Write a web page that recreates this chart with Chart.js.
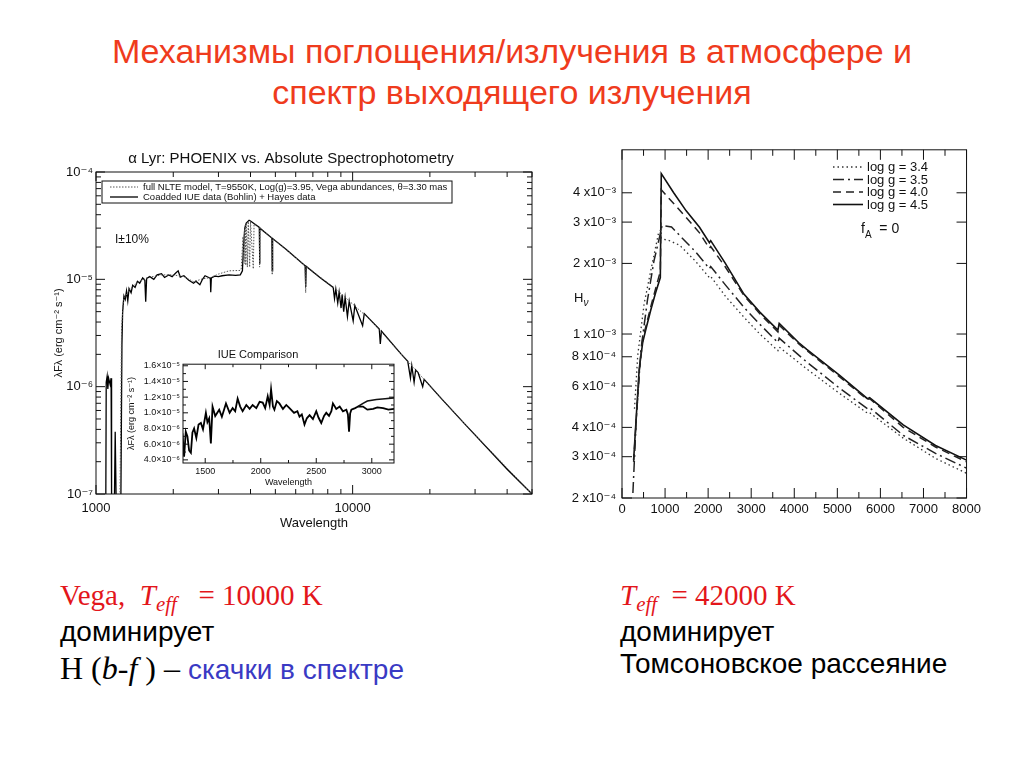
<!DOCTYPE html>
<html lang="ru">
<head>
<meta charset="utf-8">
<title>Механизмы поглощения/излучения в атмосфере</title>
<script src="https://cdn.jsdelivr.net/npm/chart.js@4.4.1/dist/chart.umd.min.js"></script>
<style>
  body { margin: 0; background: #fff; }
  #page { position: relative; width: 1024px; height: 768px; overflow: hidden; font-family: 'Liberation Sans', Arial, sans-serif; }
  .abs { position: absolute; white-space: nowrap; }
  canvas { position: absolute; }
  .title { left: 0; width: 1024px; top: 31px; text-align: center; font-size: 34px; line-height: 41px; color: #ef3b1d; }
  .serif { font-family: 'Liberation Serif', 'Times New Roman', serif; }
  .red { color: #e3161b; }
  .blue { color: #3a3ac4; }
  .sub { font-size: 0.72em; font-style: italic; position: relative; top: 0.3em; }
  .txt { font-size: 28px; color: #000; }
</style>
</head>
<body>
<div id="page">
  <div class="abs title">Механизмы поглощения/излучения в атмосфере и<br>спектр выходящего излучения</div>

  <canvas id="vega" width="490" height="385" style="left:50px; top:148px; width:490px; height:385px"></canvas>
  <canvas id="iue" width="276" height="145" style="left:122px; top:345px; width:276px; height:145px"></canvas>
  <canvas id="hot" width="425" height="385" style="left:560px; top:136px; width:425px; height:385px"></canvas>

  <div class="abs" style="left:115px; top:232px; font-size:12px; color:#111">I±10%</div>
  <div class="abs" style="left:574px; top:290px; font-size:13px; color:#111">H<span style="font-size:10px; position:relative; top:4px; font-style:italic">ν</span></div>
  <div class="abs" style="left:861px; top:220px; font-size:14px; color:#111">f<span style="font-size:10px; position:relative; top:5px">A</span>&nbsp;&nbsp;= 0</div>

  <div class="abs serif red" style="left:60px; top:579px; font-size:29px">Vega,&nbsp; <i>T</i><span class="sub">eff</span>&nbsp;&nbsp; = 10000 K</div>
  <div class="abs txt" style="left:60px; top:616px">доминирует</div>
  <div class="abs" style="left:60px; top:650px"><span class="serif" style="font-size:32px">H (<i>b</i>-<i>f</i> ) – </span><span class="blue" style="font-size:28px">скачки в спектре</span></div>

  <div class="abs serif red" style="left:620px; top:579px; font-size:29px"><i>T</i><span class="sub">eff</span>&nbsp; = 42000 K</div>
  <div class="abs txt" style="left:620px; top:616px">доминирует</div>
  <div class="abs txt" style="left:620px; top:648px">Томсоновское рассеяние</div>
</div>

<script>
// === Vega: PHOENIX model vs. observed (Angstrom, erg cm^-2 s^-1) === //
const vegaObsWave = [1092, 1096, 1105, 1112, 1120, 1135, 1145, 1150, 1180, 1188, 1198, 1250, 1262, 1270, 1285, 1300, 1315, 1330, 1345, 1370, 1390, 1420, 1450, 1480, 1520, 1550, 1562, 1575, 1620, 1680, 1730, 1800, 1850, 1920, 1980, 2040, 2090, 2130, 2200, 2300, 2400, 2450, 2540, 2600, 2660, 2750, 2790, 2800, 2815, 2900, 3000, 3100, 3300, 3500, 3650, 3720, 3760, 3800, 3850, 3900, 3950, 4000, 4100, 4330, 4340, 4355, 4845, 4861, 4878, 5500, 6530, 6563, 6595, 7500, 8400, 8500, 8600, 8750, 8860, 9015, 9100, 9230, 9350, 9546, 9700, 10049, 10200, 10938, 11100, 12700, 12818, 12950, 15400, 16400, 16800, 17000, 17360, 17600, 18000, 18750, 19000, 22000, 27100, 40000, 50000]
const vegaObsFlux = [9e-8, 1.1e-6, 1.25e-6, 9.5e-7, 1.2e-6, 1.05e-6, 1.2e-6, 9e-8, 9e-8, 3.8e-7, 9e-8, 9e-8, 2.5e-6, 5.0e-6, 7.0e-6, 6.5e-6, 7.8e-6, 6.3e-6, 8.2e-6, 7.5e-6, 8.8e-6, 8.4e-6, 9.6e-6, 9.2e-6, 1.03e-5, 9.8e-6, 6.2e-6, 1.02e-5, 1.06e-5, 1.0e-5, 1.1e-5, 1.13e-5, 1.04e-5, 1.1e-5, 1.06e-5, 1.14e-5, 1.2e-5, 1.05e-5, 1.08e-5, 9.8e-6, 9.2e-6, 9.6e-6, 8.9e-6, 1.0e-5, 1.08e-5, 1.04e-5, 1.02e-5, 7.6e-6, 1.03e-5, 1.07e-5, 1.06e-5, 1.08e-5, 1.1e-5, 1.09e-5, 1.1e-5, 1.2e-5, 2.1e-5, 3.0e-5, 3.35e-5, 3.45e-5, 3.55e-5, 3.5e-5, 3.35e-5, 3.05e-5, 1.4e-5, 3.0e-5, 2.43e-5, 1.2e-5, 2.4e-5, 1.91e-5, 1.34e-5, 8.5e-6, 1.32e-5, 1.03e-5, 8.4e-6, 6.6e-6, 8.1e-6, 6.0e-6, 7.6e-6, 5.4e-6, 7.2e-6, 5.0e-6, 6.8e-6, 4.5e-6, 6.3e-6, 4.1e-6, 5.7e-6, 3.7e-6, 4.8e-6, 3.45e-6, 2.5e-6, 3.3e-6, 2.03e-6, 1.72e-6, 1.2e-6, 1.57e-6, 1.1e-6, 1.43e-6, 1.35e-6, 1.0e-6, 1.17e-6, 7.9e-7, 4.6e-7, 1.7e-7, 1.0e-7]

const vegaModWave = [1180, 1240, 1258, 1280, 1350, 1450, 1600, 1800, 2000, 2200, 2400, 2600, 2800, 3000, 3300, 3640, 3680, 3740, 3760, 3790, 3800, 3820, 3835, 3855, 3889, 3920, 3970, 4000, 4102, 4130, 4330, 4340, 4355, 4845, 4861, 4878, 6530, 6563, 6595, 8720, 11800, 15400, 27100, 50000]
const vegaModFlux = [9e-8, 9e-8, 3.5e-6, 6.5e-6, 8.0e-6, 9.4e-6, 1.04e-5, 1.1e-5, 1.1e-5, 1.06e-5, 9.5e-6, 1.01e-5, 1.04e-5, 1.12e-5, 1.2e-5, 1.21e-5, 1.25e-5, 2.5e-5, 1.5e-5, 2.9e-5, 1.4e-5, 3.2e-5, 1.35e-5, 3.35e-5, 1.3e-5, 3.45e-5, 1.3e-5, 3.45e-5, 1.25e-5, 3.3e-5, 3.05e-5, 1.3e-5, 3.0e-5, 2.43e-5, 1.1e-5, 2.4e-5, 1.34e-5, 7.5e-6, 1.32e-5, 7.9e-6, 4.13e-6, 2.03e-6, 4.6e-7, 1.0e-7]

// === IUE comparison inset === //
const iueWave = [1295, 1310, 1325, 1340, 1355, 1371, 1385, 1400, 1420, 1440, 1461, 1480, 1506, 1520, 1536, 1551, 1566, 1590, 1626, 1650, 1687, 1720, 1747, 1770, 1792, 1815, 1837, 1870, 1900, 1927, 1960, 1990, 2018, 2040, 2063, 2080, 2093, 2110, 2123, 2145, 2168, 2200, 2230, 2259, 2300, 2330, 2349, 2370, 2394, 2415, 2440, 2470, 2500, 2520, 2545, 2570, 2590, 2615, 2636, 2650, 2680, 2711, 2740, 2771, 2785, 2795, 2805, 2816, 2850, 2876, 2921, 2960, 3012, 3050, 3102, 3150, 3200]
const iueFlux = [7.4e-6, 4.4e-6, 7.6e-6, 7.0e-6, 5.2e-6, 4.9e-6, 7.5e-6, 8.0e-6, 6.8e-6, 8.5e-6, 8.7e-6, 7.9e-6, 1.0e-5, 8.8e-6, 9.3e-6, 6.1e-6, 1.08e-5, 9.6e-6, 1.04e-5, 9.5e-6, 1.12e-5, 1.0e-5, 1.06e-5, 1.02e-5, 1.18e-5, 1.08e-5, 1.02e-5, 1.1e-5, 1.05e-5, 1.1e-5, 1.06e-5, 1.14e-5, 1.13e-5, 1.06e-5, 1.21e-5, 1.1e-5, 1.3e-5, 1.08e-5, 1.04e-5, 1.15e-5, 1.12e-5, 1.05e-5, 1.1e-5, 1.06e-5, 1.0e-5, 1.02e-5, 9.5e-6, 9.8e-6, 8.5e-6, 9.3e-6, 9.7e-6, 9.2e-6, 1.02e-5, 9.4e-6, 8.7e-6, 9.6e-6, 1.0e-5, 9.6e-6, 1.02e-5, 1.12e-5, 1.05e-5, 1.08e-5, 1.02e-5, 1.04e-5, 9.8e-6, 7.6e-6, 9.9e-6, 1.04e-5, 1.06e-5, 1.08e-5, 1.08e-5, 1.04e-5, 1.05e-5, 1.07e-5, 1.06e-5, 1.04e-5, 1.05e-5]
const iueModWave = [2876, 2921, 2960, 3042, 3120, 3200]
const iueModFlux = [1.08e-5, 1.12e-5, 1.15e-5, 1.17e-5, 1.18e-5, 1.19e-5]
const iueYTicks = [4e-6, 6e-6, 8e-6, 1e-5, 1.2e-5, 1.4e-5, 1.6e-5]
const iueXTicks = [1500, 2000, 2500, 3000]

// === Hot star, Teff = 42000 K: H_nu vs wavelength === //
const wave34 = [290, 365, 515, 665, 850, 905, 915, 1100, 1340, 1700, 2030, 2060, 2400, 2830, 3200, 3620, 3650, 4290, 5040, 5700, 5750, 6530, 7280, 8000]
const h34 = [4.8e-4, 8.1e-4, 1.35e-3, 1.85e-3, 2.7e-3, 2.78e-3, 2.55e-3, 2.5e-3, 2.39e-3, 2.05e-3, 1.74e-3, 1.76e-3, 1.45e-3, 1.18e-3, 1.0e-3, 8.5e-4, 8.8e-4, 7.1e-4, 5.6e-4, 4.6e-4, 4.62e-4, 3.6e-4, 2.95e-4, 2.55e-4]
const wave35 = [253, 330, 440, 590, 740, 890, 930, 1150, 1340, 1700, 2030, 2060, 2400, 2830, 3200, 3620, 3650, 4290, 5040, 5700, 5750, 6530, 7280, 8000]
const h35 = [2.1e-4, 4.3e-4, 8.6e-4, 1.39e-3, 2.04e-3, 2.68e-3, 2.9e-3, 2.86e-3, 2.63e-3, 2.25e-3, 1.9e-3, 1.94e-3, 1.62e-3, 1.3e-3, 1.1e-3, 9.2e-4, 9.6e-4, 7.6e-4, 5.9e-4, 4.8e-4, 4.85e-4, 3.7e-4, 3.1e-4, 2.68e-4]
const wave40 = [270, 330, 400, 480, 550, 665, 780, 890, 912, 1200, 1490, 1800, 2030, 2060, 2400, 2830, 3200, 3620, 3650, 4100, 4290, 5040, 5700, 5750, 6530, 7280, 8000]
const h40 = [2.85e-4, 4.3e-4, 6.9e-4, 9.5e-4, 1.07e-3, 1.3e-3, 1.56e-3, 1.85e-3, 4.12e-3, 3.6e-3, 3.14e-3, 2.7e-3, 2.32e-3, 2.36e-3, 1.93e-3, 1.46e-3, 1.22e-3, 1.02e-3, 1.09e-3, 9.1e-4, 8.5e-4, 6.6e-4, 5.25e-4, 5.3e-4, 4.0e-4, 3.3e-4, 2.85e-4]
const wave45 = [270, 330, 400, 480, 550, 665, 780, 890, 912, 1200, 1490, 1800, 2030, 2060, 2400, 2830, 3200, 3620, 3650, 4100, 4290, 5040, 5700, 5750, 6530, 7280, 8000]
const h45 = [2.9e-4, 4.4e-4, 7.1e-4, 9.2e-4, 1.04e-3, 1.26e-3, 1.5e-3, 1.74e-3, 4.83e-3, 4.0e-3, 3.35e-3, 2.85e-3, 2.45e-3, 2.5e-3, 2.0e-3, 1.48e-3, 1.24e-3, 1.04e-3, 1.11e-3, 9.2e-4, 8.6e-4, 6.7e-4, 5.3e-4, 5.35e-4, 4.1e-4, 3.35e-4, 2.9e-4]
const hotYTicks = [2e-4, 3e-4, 4e-4, 6e-4, 8e-4, 1e-3, 2e-3, 3e-3, 4e-3]
const hotXTicks = [0, 500, 1000, 1500, 2000, 2500, 3000, 3500, 4000, 4500, 5000, 5500, 6000, 6500, 7000, 7500, 8000]

const plotFont = "'Liberation Sans', 'DejaVu Sans', sans-serif"
const ink = '#111'

const supMap = { '-': '⁻', '0': '⁰', '1': '¹', '2': '²', '3': '³', '4': '⁴', '5': '⁵', '6': '⁶', '7': '⁷', '8': '⁸', '9': '⁹' }
function sup(n) { return String(n).split('').map(c => supMap[c]).join('') }
function expOf(v) { return Math.floor(Math.log10(v) + 1e-9) }
function isDecade(v) { const l = Math.log10(v); return Math.abs(l - Math.round(l)) < 1e-6 }
function pairs(xs, ys) { return xs.map((x, i) => ({ x, y: ys[i] })) }

// 1..9 marks in every decade of a log axis
function logTicks(min, max) {
  const out = []
  for (let e = expOf(min); e <= expOf(max); e++) {
    for (let m = 1; m < 10; m++) {
      const v = m * Math.pow(10, e)
      if (v >= min * 0.999 && v <= max * 1.001) out.push(v)
    }
  }
  return out
}

// frame round the plot and inward tick marks on all four sides
function frameTicks(cfg) {
  return {
    id: 'frameTicks',
    afterDatasetsDraw(chart) {
      const { ctx, chartArea: a } = chart
      const xs = chart.scales.x, ys = chart.scales.y
      ctx.save()
      ctx.strokeStyle = ink
      ctx.lineWidth = cfg.lineWidth || 1
      ctx.strokeRect(a.left, a.top, a.right - a.left, a.bottom - a.top)
      ctx.beginPath()
      const xv = xs.ticks.map(t => t.value), yv = ys.ticks.map(t => t.value)
      xv.forEach((v, i) => {
        const p = xs.getPixelForValue(v)
        const len = cfg.majorX(v) ? cfg.major : cfg.minor
        ctx.moveTo(p, a.bottom); ctx.lineTo(p, a.bottom - len)
        ctx.moveTo(p, a.top); ctx.lineTo(p, a.top + len)
        if (cfg.midX && i > 0) {
          const q = xs.getPixelForValue((v + xv[i - 1]) / 2)
          ctx.moveTo(q, a.bottom); ctx.lineTo(q, a.bottom - cfg.minor)
          ctx.moveTo(q, a.top); ctx.lineTo(q, a.top + cfg.minor)
        }
      })
      yv.forEach((v, i) => {
        const p = ys.getPixelForValue(v)
        const len = cfg.majorY(v) ? cfg.major : cfg.minor
        ctx.moveTo(a.left, p); ctx.lineTo(a.left + len, p)
        ctx.moveTo(a.right, p); ctx.lineTo(a.right - len, p)
        if (cfg.midY && i > 0) {
          const q = ys.getPixelForValue((v + yv[i - 1]) / 2)
          ctx.moveTo(a.left, q); ctx.lineTo(a.left + cfg.minor, q)
          ctx.moveTo(a.right, q); ctx.lineTo(a.right - cfg.minor, q)
        }
      })
      ctx.stroke()
      ctx.restore()
    }
  }
}

// legend drawn from the datasets' own line styles, at a spot inside the plot
function lineLegend(cfg) {
  return {
    id: 'lineLegend',
    afterDraw(chart) {
      const ctx = chart.ctx
      ctx.save()
      if (cfg.box) {
        ctx.strokeStyle = ink
        ctx.lineWidth = 1
        ctx.setLineDash([])
        ctx.strokeRect(cfg.box[0], cfg.box[1], cfg.box[2], cfg.box[3])
      }
      ctx.font = cfg.font
      ctx.textBaseline = 'middle'
      chart.data.datasets.forEach((ds, i) => {
        const y = cfg.y0 + i * cfg.dy
        ctx.strokeStyle = ds.borderColor
        ctx.lineWidth = ds.borderWidth
        ctx.setLineDash(ds.borderDash || [])
        ctx.beginPath()
        ctx.moveTo(cfg.x0, y); ctx.lineTo(cfg.x1, y)
        ctx.stroke()
        ctx.fillStyle = ink
        ctx.fillText(ds.label, cfg.tx, y + 0.5)
      })
      ctx.restore()
    }
  }
}

const baseOptions = {
  responsive: false,
  animation: false,
  events: [],
  plugins: { legend: { display: false }, tooltip: { enabled: false } }
}
const noGrid = { display: false, drawTicks: false }

// === left: Vega spectrum === //
new Chart(document.getElementById('vega'), {
  type: 'line',
  data: {
    datasets: [
      { label: 'full NLTE model, T=9550K, Log(g)=3.95, Vega abundances, θ=3.30 mas', data: pairs(vegaModWave, vegaModFlux), borderColor: '#555', borderWidth: 1, borderDash: [1.5, 1.5], pointRadius: 0 },
      { label: 'Coadded IUE data (Bohlin) + Hayes data', data: pairs(vegaObsWave, vegaObsFlux), borderColor: '#000', borderWidth: 1.3, pointRadius: 0 }
    ]
  },
  options: {
    ...baseOptions,
    layout: { padding: { right: 8 } },
    plugins: {
      ...baseOptions.plugins,
      title: { display: true, text: 'α Lyr: PHOENIX vs. Absolute Spectrophotometry', color: ink, font: { size: 15, family: plotFont, weight: 'normal' }, padding: { top: 2, bottom: 4 } }
    },
    scales: {
      x: {
        type: 'logarithmic', min: 1000, max: 50000,
        grid: noGrid, border: { display: false },
        afterBuildTicks: s => { s.ticks = logTicks(1000, 50000).map(v => ({ value: v })) },
        afterFit: s => { s.height = 39 },
        ticks: { autoSkip: false, maxRotation: 0, padding: 7, color: ink, font: { size: 13, family: plotFont }, callback: v => isDecade(v) ? String(v) : '' },
        title: { display: true, text: 'Wavelength', color: ink, font: { size: 13, family: plotFont }, padding: { top: 0, bottom: 2 } }
      },
      y: {
        type: 'logarithmic', min: 1e-7, max: 1e-4,
        grid: noGrid, border: { display: false },
        afterBuildTicks: s => { s.ticks = logTicks(1e-7, 1e-4).map(v => ({ value: v })) },
        afterFit: s => { s.width = 46 },
        ticks: { autoSkip: false, padding: 3, color: ink, font: { size: 13, family: plotFont }, callback: v => isDecade(v) ? '10' + sup(expOf(v)) : '' },
        title: { display: true, text: 'λFλ (erg cm⁻² s⁻¹)', color: ink, font: { size: 11, family: plotFont }, padding: { top: 2, bottom: 0 } }
      }
    }
  },
  plugins: [
    frameTicks({ major: 9, minor: 5, majorX: isDecade, majorY: isDecade }),
    lineLegend({ box: [52, 33, 350, 22], x0: 60, x1: 88, tx: 93, y0: 39, dy: 10, font: "9.5px " + plotFont })
  ]
})

// === inset: IUE comparison === //
new Chart(document.getElementById('iue'), {
  type: 'line',
  data: {
    datasets: [
      { label: 'model', data: pairs(iueModWave, iueModFlux), borderColor: '#111', borderWidth: 1.6, pointRadius: 0 },
      { label: 'IUE', data: pairs(iueWave, iueFlux), borderColor: '#000', borderWidth: 1.8, pointRadius: 0 }
    ]
  },
  options: {
    ...baseOptions,
    layout: { padding: { right: 4 } },
    plugins: {
      ...baseOptions.plugins,
      title: { display: true, text: 'IUE Comparison', color: ink, font: { size: 11, family: plotFont, weight: 'normal' }, padding: { top: 3, bottom: 3 } }
    },
    scales: {
      x: {
        type: 'linear', min: 1300, max: 3200,
        grid: noGrid, border: { display: false },
        afterBuildTicks: s => { s.ticks = iueXTicks.map(v => ({ value: v })) },
        afterFit: s => { s.height = 27 },
        ticks: { autoSkip: false, maxRotation: 0, padding: 3, color: ink, font: { size: 9, family: plotFont }, callback: v => String(v) },
        title: { display: true, text: 'Wavelength', color: ink, font: { size: 9, family: plotFont }, padding: { top: 0, bottom: 2 } }
      },
      y: {
        type: 'linear', min: 3.6e-6, max: 1.62e-5,
        grid: noGrid, border: { display: false },
        afterBuildTicks: s => { s.ticks = iueYTicks.map(v => ({ value: v })) },
        afterFit: s => { s.width = 61 },
        ticks: { autoSkip: false, padding: 3, color: ink, font: { size: 9, family: plotFont }, callback: v => (v / Math.pow(10, expOf(v))).toFixed(1) + '×10' + sup(expOf(v)) },
        title: { display: true, text: 'λFλ (erg cm⁻² s⁻¹)', color: ink, font: { size: 9, family: plotFont }, padding: { top: 4, bottom: 0 } }
      }
    }
  },
  plugins: [frameTicks({ major: 5, minor: 3, majorX: () => true, majorY: () => true, midX: true, midY: true })]
})

// === right: Teff = 42000 K === //
new Chart(document.getElementById('hot'), {
  type: 'line',
  data: {
    datasets: [
      { label: 'log g = 3.4', data: pairs(wave34, h34), borderColor: '#333', borderWidth: 1.3, borderDash: [1.5, 3], pointRadius: 0 },
      { label: 'log g = 3.5', data: pairs(wave35, h35), borderColor: '#222', borderWidth: 1.5, borderDash: [11, 4, 2, 4], pointRadius: 0 },
      { label: 'log g = 4.0', data: pairs(wave40, h40), borderColor: '#222', borderWidth: 1.5, borderDash: [8, 5], pointRadius: 0 },
      { label: 'log g = 4.5', data: pairs(wave45, h45), borderColor: '#111', borderWidth: 1.6, pointRadius: 0 }
    ]
  },
  options: {
    ...baseOptions,
    layout: { padding: { top: 6, right: 6 } },
    scales: {
      x: {
        type: 'linear', min: 0, max: 8000,
        grid: noGrid, border: { display: false },
        afterBuildTicks: s => { s.ticks = hotXTicks.map(v => ({ value: v })) },
        afterFit: s => { s.height = 23 },
        ticks: { autoSkip: false, maxRotation: 0, padding: 4, color: ink, font: { size: 13, family: plotFont }, callback: v => v % 1000 === 0 ? String(v) : '' }
      },
      y: {
        type: 'logarithmic', min: 2e-4, max: 6.1e-3,
        grid: noGrid, border: { display: false },
        afterBuildTicks: s => { s.ticks = hotYTicks.map(v => ({ value: v })) },
        afterFit: s => { s.width = 62 },
        ticks: { autoSkip: false, padding: 6, color: ink, font: { size: 13, family: plotFont }, callback: v => Math.round(v / Math.pow(10, expOf(v))) + ' x10' + sup(expOf(v)) }
      }
    }
  },
  plugins: [
    frameTicks({ major: 10, minor: 6, majorX: v => v % 1000 === 0, majorY: () => true }),
    lineLegend({ x0: 273, x1: 303, tx: 307, y0: 31, dy: 12.5, font: "13px " + plotFont })
  ]
})
</script>
</body>
</html>
